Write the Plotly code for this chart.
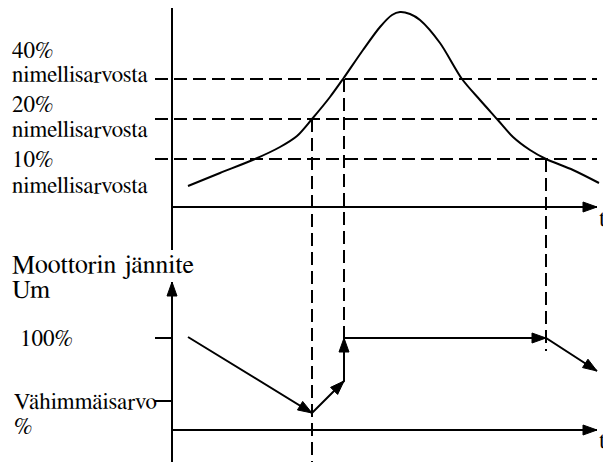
import math

import plotly.graph_objects as go

# diagram coordinates (x to the right, y downwards)
curve_x = [188, 220, 255, 280, 297, 312, 330, 343, 363, 380, 392, 400, 410, 420, 440, 462, 480, 497, 513, 530, 546, 573, 599]
curve_y = [186, 173, 159, 147, 136, 119, 97, 79, 50, 27, 15, 12, 14, 20, 43, 79, 100, 119, 137, 150, 159, 170, 183]

level_labels = ["40%", "20%", "10%"]
level_y = [79, 119, 159]

drop_x = [312, 344, 546]
drop_top = [119, 79, 159]
drop_bottom = [462, 338, 351]

voltage_x = [188, 312, 344, 344, 546, 597]
voltage_y = [337, 413, 381, 338, 338, 371]

voltage_ticks = ["100%", "Vähimmäisarvo"]
voltage_tick_y = [338, 401]

FONT = "FreeSerif"
BLACK = "black"
PAGE_OFFSET = 8  # default body margin of the html page


def arrow_head(x0, y0, x1, y1, length=14, half=5):
    dx, dy = x1 - x0, y1 - y0
    n = math.hypot(dx, dy)
    dx, dy = dx / n, dy / n
    bx, by = x1 - dx * length, y1 - dy * length
    px, py = -dy * half, dx * half
    return [x1, bx + px, bx - px, x1], [y1, by + py, by - py, y1]


def segments(pairs):
    xs, ys = [], []
    for (x0, y0), (x1, y1) in pairs:
        xs += [x0, x1, None]
        ys += [y0, y1, None]
    return xs, ys


fig = go.Figure()

# axes (solid)
axis_x0 = 172
axes = [
    ((axis_x0, 0), (axis_x0, 250)),
    ((axis_x0, 207), (597, 207)),
    ((axis_x0, 462), (axis_x0, 282)),
    ((axis_x0, 430), (597, 430)),
]
for y in voltage_tick_y:
    axes.append(((155, y), (axis_x0, y)))
ax_x, ax_y = segments(axes)
fig.add_trace(go.Scatter(x=ax_x, y=ax_y, mode="lines", line=dict(color=BLACK, width=2)))

heads = [((axis_x0, 207), (597, 207)), ((axis_x0, 430), (597, 430)), ((axis_x0, 300), (axis_x0, 282))]

# dashed level lines and drop lines
dash_pairs = [((155, y), (597, y)) for y in level_y]
dash_pairs += [((x, t), (x, b)) for x, t, b in zip(drop_x, drop_top, drop_bottom)]
for (x0, y0), (x1, y1) in dash_pairs:
    fig.add_trace(go.Scatter(x=[x0, x1], y=[y0, y1], mode="lines",
                             line=dict(color=BLACK, width=2, dash="13px,6px")))

# current curve
fig.add_trace(go.Scatter(x=curve_x, y=curve_y, mode="lines",
                         line=dict(color=BLACK, width=2, shape="spline", smoothing=0.8)))

# motor voltage path
fig.add_trace(go.Scatter(x=voltage_x, y=voltage_y, mode="lines", line=dict(color=BLACK, width=2)))
for i in range(len(voltage_x) - 1):
    heads.append(((voltage_x[i], voltage_y[i]), (voltage_x[i + 1], voltage_y[i + 1])))

for (x0, y0), (x1, y1) in heads:
    hx, hy = arrow_head(x0, y0, x1, y1)
    fig.add_trace(go.Scatter(x=hx, y=hy, mode="lines", fill="toself", fillcolor=BLACK,
                             line=dict(color=BLACK, width=1)))

# labels
label_pos = [(51, 75), (105, 130), (160, 186)]
texts = []
for lab, (y_pct, y_name) in zip(level_labels, label_pos):
    texts.append((10, y_pct, lab, 23))
    texts.append((10, y_name, "nimellisarvosta", 23))
texts += [
    (10, 265, "Moottorin jännite", 26),
    (10, 290, "Um", 26),
    (18, 339, voltage_ticks[0], 23),
    (12, 402, voltage_ticks[1], 23),
    (12, 427, "%", 23),
    (597, 219, "t", 23),
    (597, 441, "t", 23),
]
for x, y, s, size in texts:
    fig.add_annotation(x=x, y=y, text=s, showarrow=False, xanchor="left", yanchor="middle",
                       font=dict(family=FONT, size=size, color=BLACK))

fig.update_layout(
    width=611, height=462,
    margin=dict(l=0, r=0, t=0, b=0),
    plot_bgcolor="white", paper_bgcolor="white",
    showlegend=False,
    xaxis=dict(range=[PAGE_OFFSET, 611 + PAGE_OFFSET], visible=False),
    yaxis=dict(range=[462 + PAGE_OFFSET, PAGE_OFFSET], visible=False),
)

fig.write_html("out.html")
